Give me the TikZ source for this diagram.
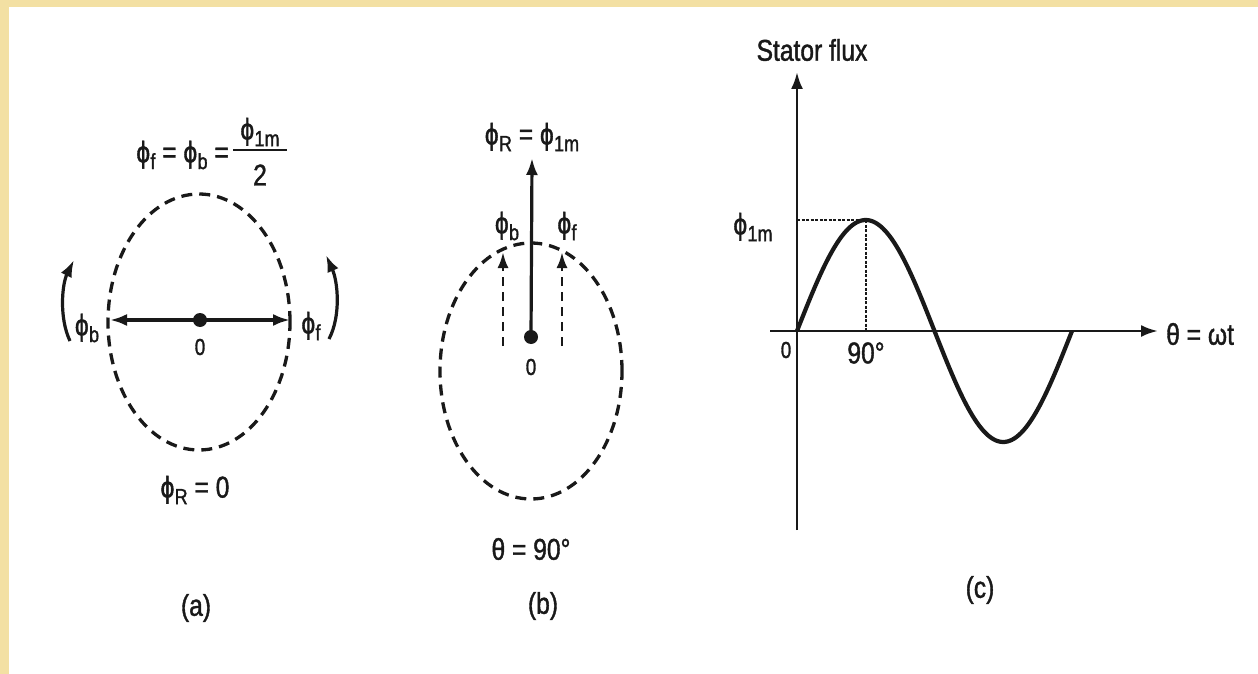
\documentclass[tikz,border=0pt]{standalone}
\usepackage{fontspec}
\setmainfont{Liberation Sans}[FakeStretch=0.82,FakeBold=1.3]
\usetikzlibrary{arrows.meta}
\definecolor{cream}{RGB}{243,224,163}
\definecolor{ink}{RGB}{25,25,25}
\newcommand{\fl}[1]{ϕ\kern0.3pt\raisebox{-0.42ex}{\fontsize{22}{22}\selectfont #1}}
\tikzset{
  lbl/.style={font=\fontsize{30}{32}\selectfont, inner sep=0pt, text=ink},
  small/.style={font=\fontsize{23}{25}\selectfont, inner sep=0pt, text=ink},
  vec/.style={line width=3.2pt, draw=ink, -{Latex[length=17pt,width=12pt]}},
  dvec/.style={line width=2.8pt, draw=ink, dash pattern=on 9pt off 6pt, -{Latex[length=16pt,width=11pt]}},
  dashcirc/.style={line width=3.3pt, draw=ink, dash pattern=on 11pt off 7pt},
  guide/.style={line width=1.4pt, draw=ink, dash pattern=on 3pt off 1.5pt},
  dot/.style={circle, fill=ink, inner sep=0pt, minimum size=14pt},
  curve/.style={line width=4.2pt, draw=ink}
}
\begin{document}
\begin{tikzpicture}[x=1pt,y=-1pt]
\fill[cream] (0,0) rectangle (1258,674);
\fill[white] (9,7) rectangle (1258,674);
\useasboundingbox (0,0) rectangle (1258,674);

% ---------- (a) ----------
\coordinate (ca) at (199,322);
\draw[dashcirc] (ca) ellipse [x radius=91pt, y radius=128pt];
\node[dot] (oa) at (200,320) {};
\coordinate (la) at (110,320);
\coordinate (ra) at (290,320);
\draw[vec] (oa.center) -- (la);
\draw[vec] (oa.center) -- (ra);
\node[small] (za) at (200,347) {0};
\node[lbl] (pba) at (87,328) {\fl{b}};
\node[lbl] (pfa) at (311,326) {\fl{f}};
\coordinate (lb0) at (70,341);
\coordinate (lb1) at (74,260);
\draw[vec] (lb0) .. controls (59,318) and (62,284) .. (lb1);
\coordinate (rb0) at (329,339);
\coordinate (rb1) at (326,255);
\draw[vec] (rb0) .. controls (341,316) and (338,282) .. (rb1);
\node[lbl, anchor=east] (eqa) at (229,155) {\fl{f} = \fl{b} =};
\node[lbl] (numa) at (260,132) {\fl{1m}};
\coordinate (fb0) at (233,150);
\coordinate (fb1) at (287,150);
\draw[line width=2.8pt, draw=ink] (fb0) -- (fb1);
\node[lbl] (dena) at (260,175) {2};
\node[lbl] (resa) at (195,490) {\fl{R} = 0};
\node[lbl] (capa) at (196,608) {(a)};

% ---------- (b) ----------
\coordinate (cb) at (531,371);
\draw[dashcirc] (cb) ellipse [x radius=91pt, y radius=128pt];
\node[dot] (ob) at (531,337) {};
\coordinate (tb) at (532,158);
\draw[vec] (ob.center) -- (tb);
\coordinate (bb0) at (503,346);
\coordinate (bb1) at (503,252);
\coordinate (fb0b) at (562,346);
\coordinate (fb1b) at (562,252);
\draw[dvec] (bb0) -- (bb1);
\draw[dvec] (fb0b) -- (fb1b);
\node[small] (zb) at (531,367) {0};
\node[lbl] (pbb) at (507,226) {\fl{b}};
\node[lbl] (pfb) at (567,226) {\fl{f}};
\node[lbl] (resb) at (532,137) {\fl{R} = \fl{1m}};
\node[lbl] (thb) at (531,549) {θ = 90°};
\node[lbl] (capb) at (543,606) {(b)};

% ---------- (c) ----------
\coordinate (o) at (797,331);
\coordinate (yb) at (797,530);
\coordinate (yt) at (797,72);
\coordinate (xl) at (770,331);
\coordinate (xr) at (1158,331);
\draw[vec, line width=2.8pt] (yb) -- (yt);
\draw[vec, line width=2.8pt] (xl) -- (xr);
\coordinate (pk) at (866,220);
\coordinate (pky) at (797,220);
\coordinate (pkx) at (866,331);
\draw[guide] (pky) -- (pk);
\draw[guide] (pk) -- (pkx);
\draw[curve] plot[domain=0:360, samples=120] ({797+\x*0.76389}, {331-111*sin(\x)});
\node[lbl] (stf) at (812,50) {Stator flux};
\node[lbl] (p1m) at (753,227) {\fl{1m}};
\node[small] (zc) at (786,350) {0};
\node[lbl] (n90) at (866,353) {90°};
\node[lbl, anchor=west] (thc) at (1166,334) {θ = ωt};
\node[lbl] (capc) at (980,590) {(c)};
\end{tikzpicture}
\end{document}
